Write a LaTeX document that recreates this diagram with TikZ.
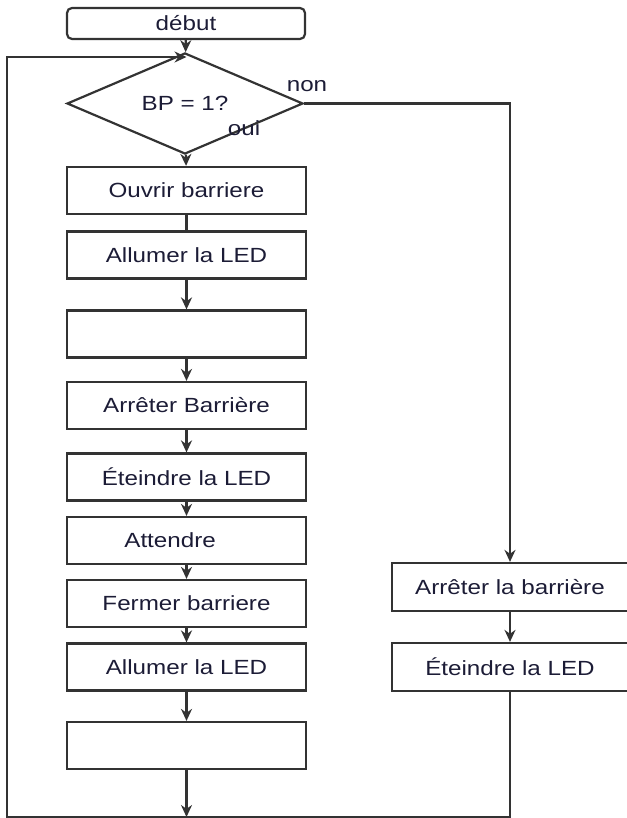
\documentclass[tikz,border=0pt]{standalone}
\usepackage{fontspec}
\setmainfont{Liberation Sans}[FakeStretch=1.18]
\usetikzlibrary{shapes.geometric,arrows.meta}
\definecolor{linegray}{HTML}{333333}
\definecolor{textink}{HTML}{1C1C36}

\begin{document}
\begin{tikzpicture}[
  x=1pt,y=-1pt,
  font=\fontsize{20.5}{24}\selectfont,
  action/.style={draw=linegray,line width=2.2pt,text=textink,minimum width=239pt,minimum height=47pt,inner sep=0pt},
  start/.style={action,rounded corners=5pt,minimum width=238pt,minimum height=31pt},
  test/.style={draw=linegray,line width=2.2pt,text=textink,diamond,minimum width=236pt,minimum height=63pt,inner sep=0pt},
  tag/.style={text=textink,inner sep=0pt},
  flow/.style={draw=linegray,line width=2.2pt,-{Stealth[length=12pt,width=11pt]}},
  wire/.style={draw=linegray,line width=2.2pt},
]
\useasboundingbox (0,0) rectangle (626,818);

% main column
\node[start] (debut) at (186,23.5) {début};
\node[test] (bp) at (185,103.5) {BP = 1?};
\node[action] (ouvrir) at (186.5,190.5) {Ouvrir barriere};
\node[action] (allumer) at (186.5,255) {Allumer la LED};
\node[action] (vide) at (186.5,334) {};
\node[action] (arreter) at (186.5,405.5) {Arrêter Barrière};
\node[action] (eteindre) at (186.5,477) {Éteindre la LED};
\node[action] (attendre) at (186.5,540.5) {Attendre\kern1.6em};
\node[action] (fermer) at (186.5,603.5) {Fermer barriere};
\node[action] (rallumer) at (186.5,667) {Allumer la LED};
\node[action] (videbis) at (186.5,745.5) {};

% branche non
\node[action,minimum width=236pt,minimum height=48pt] (stopb) at (510,587) {Arrêter la barrière};
\node[action,minimum width=236pt,minimum height=48pt] (stopled) at (510,667) {Éteindre la LED};

\node[tag] (non) at (307,86) {non};
\node[tag] (oui) at (244,128) {oui};

\coordinate (merge) at (186.5,57);
\coordinate (topL) at (7,57);
\coordinate (botL) at (7,817);
\coordinate (join) at (186.5,817);

\draw[flow] (debut) -- (bp);
\draw[flow] (bp) -- (ouvrir);
\draw[wire] (ouvrir) -- (allumer);
\draw[flow] (allumer) -- (vide);
\draw[flow] (vide) -- (arreter);
\draw[flow] (arreter) -- (eteindre);
\draw[flow] (eteindre) -- (attendre);
\draw[flow] (attendre) -- (fermer);
\draw[flow] (fermer) -- (rallumer);
\draw[flow] (rallumer) -- (videbis);
\draw[flow] (videbis) -- (join);

\draw[flow] (bp.east) -| (stopb.north);
\draw[flow] (stopb) -- (stopled);
\draw[flow] (stopled.south) |- (botL) -- (topL) -- (merge);
\end{tikzpicture}
\end{document}
